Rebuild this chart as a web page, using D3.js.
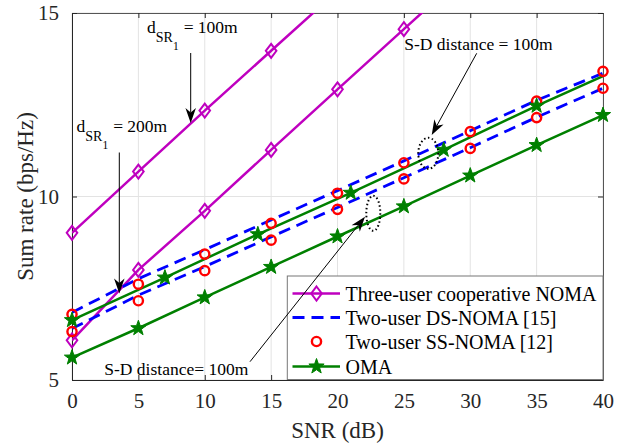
<!DOCTYPE html>
<html>
<head>
<meta charset="utf-8">
<script src="https://cdn.jsdelivr.net/npm/d3@7"></script>
<style>
  html, body { margin: 0; padding: 0; background: #fff; }
  svg { display: block; font-family: "Liberation Serif", "Times New Roman", serif; }
</style>
</head>
<body>
<svg id="chart" width="630" height="445"></svg>
<script>
// SNR grid (dB)
const snrDb = [0, 5, 10, 15, 20, 25, 30, 35, 40];
const xTicks = [0, 5, 10, 15, 20, 25, 30, 35, 40];
const yTicks = [5, 10, 15];

// Three-user cooperative NOMA, d_SR1 = 100 m and 200 m (curves leave the axes at the top)
const coopNear = [9.01, 10.68, 12.34, 13.97, 15.60];
const coopFar = [6.08, 8.00, 9.61, 11.27, 12.92, 14.56, 16.20];
// Two-user DS-NOMA [15], analytical (dashed)
const dsUpper = [6.84, 7.76, 8.55, 9.36, 10.16, 10.97, 11.79, 12.62, 13.36];
const dsLower = [6.40, 7.31, 8.09, 8.90, 9.70, 10.51, 11.33, 12.16, 12.95];
// Two-user SS-NOMA [12], markers only
const ssUpper = [6.79, 7.61, 8.43, 9.27, 10.09, 10.92, 11.77, 12.60, 13.41];
const ssLower = [6.32, 7.16, 7.98, 8.81, 9.65, 10.48, 11.31, 12.15, 12.95];
// OMA: upper curve sampled every 7 dB (last point line only), lower every 5 dB
const omaUpperSnr = [0, 7, 14, 21, 28, 35, 40];
const omaUpper = [6.63, 7.79, 8.97, 10.10, 11.27, 12.47, 13.28];
const omaLower = [5.61, 6.41, 7.25, 8.08, 8.91, 9.73, 10.57, 11.40, 12.22];

const legendLabels = [
  "Three-user cooperative NOMA",
  "Two-user DS-NOMA [15]",
  "Two-user SS-NOMA [12]",
  "OMA"
];

const PURPLE = "#bf00bf", BLUE = "#0000ff", RED = "#ff0000", GREEN = "#008000";
const AX = "#262626";

const svg = d3.select("#chart");
const plot = { left: 72, right: 603, top: 13, bottom: 380 };
const x = d3.scaleLinear().domain([0, 40]).range([plot.left, plot.right]);
const y = d3.scaleLinear().domain([5, 15]).range([plot.bottom, plot.top]);

svg.append("defs").append("clipPath").attr("id", "plotClip")
  .append("rect")
  .attr("x", plot.left).attr("y", plot.top)
  .attr("width", plot.right - plot.left).attr("height", plot.bottom - plot.top);

// grid
const grid = svg.append("g");
grid.selectAll(".gx").data(xTicks).join("line")
  .attr("x1", d => x(d)).attr("x2", d => x(d))
  .attr("y1", plot.top).attr("y2", plot.bottom)
  .attr("stroke", "#e3e3e3").attr("stroke-width", 1);
grid.selectAll(".gy").data(yTicks).join("line")
  .attr("x1", plot.left).attr("x2", plot.right)
  .attr("y1", d => y(d)).attr("y2", d => y(d))
  .attr("stroke", "#e3e3e3").attr("stroke-width", 1);

// axes with inward ticks on all four sides
const tickLen = 5;
const axBottom = svg.append("g").attr("transform", `translate(0,${plot.bottom})`)
  .call(d3.axisBottom(x).tickValues(xTicks).tickSizeInner(-tickLen).tickSizeOuter(0).tickPadding(13));
const axTop = svg.append("g").attr("transform", `translate(0,${plot.top})`)
  .call(d3.axisTop(x).tickValues(xTicks).tickSizeInner(-tickLen).tickSizeOuter(0).tickFormat(""));
const axLeft = svg.append("g").attr("transform", `translate(${plot.left},0)`)
  .call(d3.axisLeft(y).tickValues(yTicks).tickSizeInner(-tickLen).tickSizeOuter(0).tickPadding(13));
const axRight = svg.append("g").attr("transform", `translate(${plot.right},0)`)
  .call(d3.axisRight(y).tickValues(yTicks).tickSizeInner(-tickLen).tickSizeOuter(0).tickFormat(""));
[axBottom, axTop, axLeft, axRight].forEach(g => {
  g.select(".domain").attr("stroke", AX).attr("stroke-width", 1);
  g.selectAll(".tick line").attr("stroke", AX);
  g.selectAll("text").attr("fill", AX).style("font-size", "21px")
    .style("font-family", "Liberation Serif, Times New Roman, serif");
});
axTop.select(".domain").attr("stroke", "#555");
axRight.select(".domain").attr("stroke", "#555");

// axis labels
svg.append("text").attr("x", (plot.left + plot.right) / 2).attr("y", 438)
  .attr("text-anchor", "middle").attr("fill", AX).style("font-size", "23px")
  .text("SNR (dB)");
svg.append("text").attr("transform", `translate(33,${(plot.top + plot.bottom) / 2}) rotate(-90)`)
  .attr("text-anchor", "middle").attr("fill", AX).style("font-size", "23px")
  .text("Sum rate (bps/Hz)");

// marker shapes
const diamondPath = (cx, cy) => `M${cx},${cy - 7}L${cx + 5.3},${cy}L${cx},${cy + 7}L${cx - 5.3},${cy}Z`;
const starPath = (cx, cy, R = 8) => {
  const r = R * 0.4;
  let p = "";
  for (let i = 0; i < 10; i++) {
    const rad = i % 2 === 0 ? R : r;
    const a = -Math.PI / 2 + i * Math.PI / 5;
    p += (i === 0 ? "M" : "L") + (cx + rad * Math.cos(a)).toFixed(2) + "," + (cy + rad * Math.sin(a)).toFixed(2);
  }
  return p + "Z";
};

const series = svg.append("g");
const lines = series.append("g").attr("clip-path", "url(#plotClip)");
const lineGen = d3.line().x(d => x(d[0])).y(d => y(d[1]));
const zipPts = (xs, ys) => ys.map((v, i) => [xs[i], v]);
const inView = d => d[1] <= 15 && d[1] >= 5;

function drawLine(pts, color, dash) {
  lines.append("path").attr("d", lineGen(pts)).attr("fill", "none")
    .attr("stroke", color).attr("stroke-width", dash ? 2.8 : 2.5)
    .attr("stroke-dasharray", dash || null);
}

// cooperative NOMA
const coopNearPts = zipPts(snrDb, coopNear);
const coopFarPts = zipPts(snrDb, coopFar);
drawLine(coopNearPts, PURPLE);
drawLine(coopFarPts, PURPLE);
// DS-NOMA dashed
drawLine(zipPts(snrDb, dsUpper), BLUE, "12,7");
drawLine(zipPts(snrDb, dsLower), BLUE, "12,7");
// OMA
const omaUpperPts = zipPts(omaUpperSnr, omaUpper);
const omaLowerPts = zipPts(snrDb, omaLower);
drawLine(omaUpperPts, GREEN);
drawLine(omaLowerPts, GREEN);

const marks = series.append("g");
[coopNearPts, coopFarPts].forEach(pts => {
  marks.selectAll(null).data(pts.filter(inView)).join("path")
    .attr("d", d => diamondPath(x(d[0]), y(d[1])))
    .attr("fill", "none").attr("stroke", PURPLE).attr("stroke-width", 2);
});
[ssUpper, ssLower].forEach(vals => {
  marks.selectAll(null).data(zipPts(snrDb, vals)).join("circle")
    .attr("cx", d => x(d[0])).attr("cy", d => y(d[1])).attr("r", 4.6)
    .attr("fill", "none").attr("stroke", RED).attr("stroke-width", 2.4);
});
marks.selectAll(null).data(omaUpperPts.slice(0, omaUpperPts.length - 1)).join("path")
  .attr("d", d => starPath(x(d[0]), y(d[1]))).attr("fill", GREEN)
  .attr("stroke", GREEN).attr("stroke-width", 1);
marks.selectAll(null).data(omaLowerPts).join("path")
  .attr("d", d => starPath(x(d[0]), y(d[1]))).attr("fill", GREEN)
  .attr("stroke", GREEN).attr("stroke-width", 1);

// legend
const lg = svg.append("g");
const lgBox = { x0: 287.3, y0: 276, x1: 603, y1: 379.5 };
lg.append("rect").attr("x", lgBox.x0).attr("y", lgBox.y0)
  .attr("width", lgBox.x1 - lgBox.x0).attr("height", lgBox.y1 - lgBox.y0)
  .attr("fill", "#fff").attr("stroke", "#777").attr("stroke-width", 1);
const rowY = [293.5, 317.5, 341.5, 366.5];
const sx0 = 292.5, sx1 = 340, smid = 316.5;
legendLabels.forEach((lab, i) => {
  const ry = rowY[i];
  if (i === 0) {
    lg.append("line").attr("x1", sx0).attr("x2", sx1).attr("y1", ry).attr("y2", ry)
      .attr("stroke", PURPLE).attr("stroke-width", 2.5);
    lg.append("path").attr("d", diamondPath(smid, ry)).attr("fill", "none")
      .attr("stroke", PURPLE).attr("stroke-width", 2);
  } else if (i === 1) {
    lg.append("line").attr("x1", sx0).attr("x2", sx1).attr("y1", ry).attr("y2", ry)
      .attr("stroke", BLUE).attr("stroke-width", 2.8).attr("stroke-dasharray", "12,7");
  } else if (i === 2) {
    lg.append("circle").attr("cx", smid).attr("cy", ry).attr("r", 4.6)
      .attr("fill", "none").attr("stroke", RED).attr("stroke-width", 2.4);
  } else {
    lg.append("line").attr("x1", sx0).attr("x2", sx1).attr("y1", ry).attr("y2", ry)
      .attr("stroke", GREEN).attr("stroke-width", 2.5);
    lg.append("path").attr("d", starPath(smid, ry)).attr("fill", GREEN)
      .attr("stroke", GREEN).attr("stroke-width", 1);
  }
  lg.append("text").attr("x", 345.5).attr("y", ry + 7).attr("fill", "#000")
    .style("font-size", "20px").text(lab);
});

// annotations
const ann = svg.append("g");
function arrow(x1, y1, x2, y2) {
  const L = 15, W = 10.5;
  const dx = x2 - x1, dy = y2 - y1, len = Math.hypot(dx, dy);
  const ux = dx / len, uy = dy / len, nx = -uy, ny = ux;
  const bx = x2 - L * ux, by = y2 - L * uy;
  const mx = x2 - 0.7 * L * ux, my = y2 - 0.7 * L * uy;
  ann.append("line").attr("x1", x1).attr("y1", y1).attr("x2", mx).attr("y2", my)
    .attr("stroke", "#000").attr("stroke-width", 1);
  ann.append("path")
    .attr("d", `M${x2},${y2}L${bx + nx * W / 2},${by + ny * W / 2}L${mx},${my}L${bx - nx * W / 2},${by - ny * W / 2}Z`)
    .attr("fill", "#000");
}
function dLabel(xd, yb, rest) {
  const t = ann.append("text").attr("x", xd).attr("y", yb).style("font-size", "17.5px").attr("fill", "#000");
  t.append("tspan").text("d");
  t.append("tspan").attr("dy", 8.5).style("font-size", "14px").text("SR");
  t.append("tspan").attr("dy", 8.5).style("font-size", "11.5px").text("1");
  t.append("tspan").attr("dy", -17).attr("dx", 5).text(rest);
}
dLabel(147, 33, "= 100m");
arrow(190.7, 53, 190.7, 123);
dLabel(76.5, 132, "= 200m");
arrow(119.3, 152.5, 119.3, 293.5);

ann.append("text").attr("x", 404.3).attr("y", 50).style("font-size", "17.5px").text("S-D distance = 100m");
arrow(476.7, 53.3, 431.7, 135);
ann.append("ellipse").attr("cx", 428.3).attr("cy", 153.3).attr("rx", 10).attr("ry", 15.5)
  .attr("fill", "none").attr("stroke", "#000").attr("stroke-width", 2).attr("stroke-dasharray", "1.5,2.5");

ann.append("text").attr("x", 104.3).attr("y", 375).style("font-size", "17.5px").text("S-D distance= 100m");
arrow(250, 361.7, 365, 216.7);
ann.append("ellipse").attr("cx", 373.3).attr("cy", 213.3).attr("rx", 7).attr("ry", 17.5)
  .attr("fill", "none").attr("stroke", "#000").attr("stroke-width", 2).attr("stroke-dasharray", "1.5,2.5");
</script>
</body>
</html>
